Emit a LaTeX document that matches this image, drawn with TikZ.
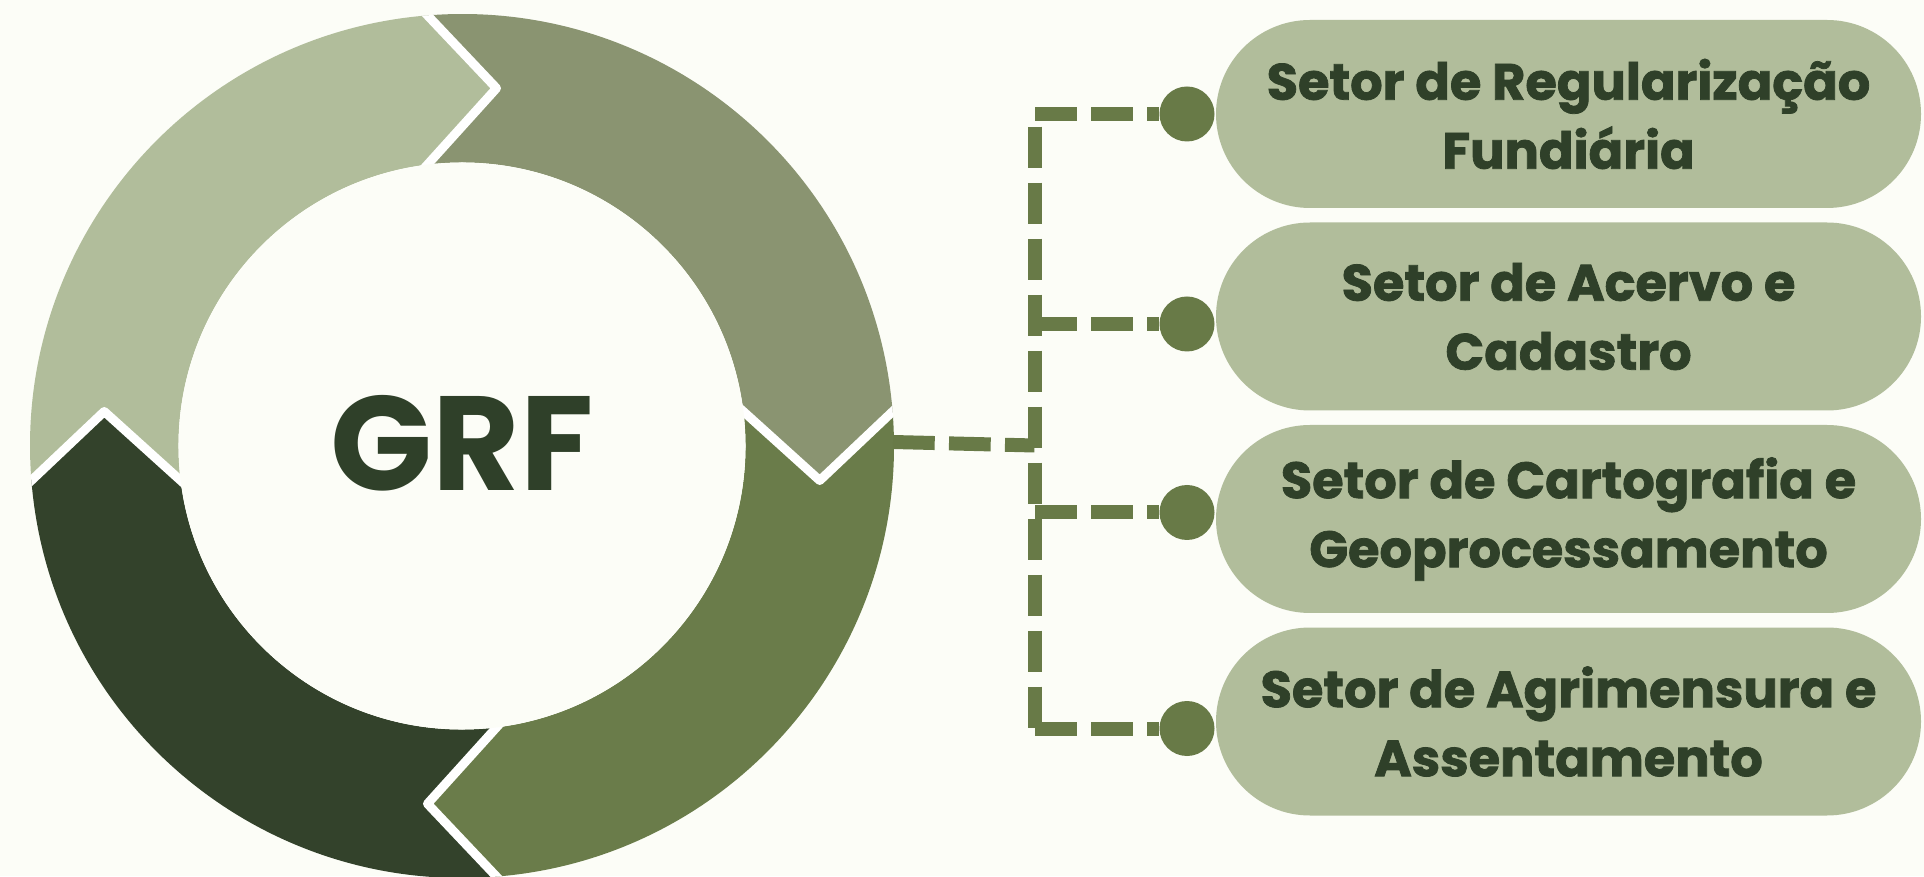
\documentclass[tikz,border=0pt]{standalone}
\usepackage{fontspec}
\setmainfont{Poppins}
\newfontfamily\heavy{Poppins}[UprightFont=* Bold, UprightFeatures={FakeBold=1.5}]
\definecolor{bg}{HTML}{FCFDF7}
\definecolor{segA}{HTML}{B1BD9B}
\definecolor{segB}{HTML}{8A9471}
\definecolor{segC}{HTML}{6A7C4A}
\definecolor{segD}{HTML}{33422B}
\definecolor{ink}{HTML}{2F4029}
\definecolor{link}{HTML}{687A47}
\begin{document}
\begin{tikzpicture}[x=1pt,y=1pt,
  pill/.style={rectangle, rounded corners=94pt, fill=segA, minimum width=705pt, minimum height=188pt, inner sep=0pt, text=ink, align=center, font=\fontsize{51}{69}\heavy},
  dotnode/.style={circle, fill=link, minimum size=55pt, inner sep=0pt},
  dashline/.style={draw=link, line width=14pt, dash pattern=on 41.7pt off 14.3pt}]
\useasboundingbox (0,0) rectangle (1924,876);
\fill[bg] (0,0) rectangle (1924,876);
\coordinate (C) at (462,430);
% ring segments
\foreach \k/\col in {0/segA,1/segB,2/segC,3/segD}{
  \fill[\col, shift={(462,430)}, rotate=-90*\k]
    (184.581:432) arc[start angle=184.581, end angle=94.581, radius=432]
    -- (34.5,357.75) -- (96.99:283.5)
    arc[start angle=96.99, end angle=186.99, radius=283.5]
    -- (-357.75,34.5) -- cycle;
}
% white gaps
\begin{scope}
  \clip (462,430) circle[radius=432];
  \foreach \k in {0,...,3}{
    \draw[white, line width=9pt, line join=round, shift={(462,430)}, rotate=-90*\k]
      (-40,436.43) -- (34.5,357.75) -- (-39.86,275.45);
  }
\end{scope}
\fill[bg] (462,430) circle[radius=283.5];
\node[anchor=base, text=ink, font=\fontsize{134}{134}\selectfont\bfseries, inner sep=0pt] (grf) at (462,385) {GRF};
% pills
\node[pill] (p1) at (1568.5,762)   {Setor de Regularização\\Fundiária};
\node[pill] (p2) at (1568.5,559.5) {Setor de Acervo e\\Cadastro};
\node[pill] (p3) at (1568.5,357)   {Setor de Cartografia e\\Geoprocessamento};
\node[pill] (p4) at (1568.5,154.5) {Setor de Agrimensura e\\Assentamento};
% dots
\node[dotnode] (d1) at (1187,762) {};
\node[dotnode] (d2) at (1187,552) {};
\node[dotnode] (d3) at (1187,363.5) {};
\node[dotnode] (d4) at (1187,147.5) {};
% connector coordinates
\coordinate (ringR) at (893,434);
\coordinate (vm) at (1034.5,430.5);
\coordinate (vt) at (1034.5,749.3);
\coordinate (vb) at (1034.5,147.7);
\coordinate (h1) at (1035,762);
\coordinate (h2) at (1035,552);
\coordinate (h3) at (1035,363.5);
\coordinate (h4) at (1035,147.5);
\draw[dashline] (ringR) -- (vm);
\draw[dashline] (vt) -- (vb);
\draw[dashline] (h1) -- (d1);
\draw[dashline] (h2) -- (d2);
\draw[dashline] (h3) -- (d3);
\draw[dashline] (h4) -- (d4);
\end{tikzpicture}
\end{document}
